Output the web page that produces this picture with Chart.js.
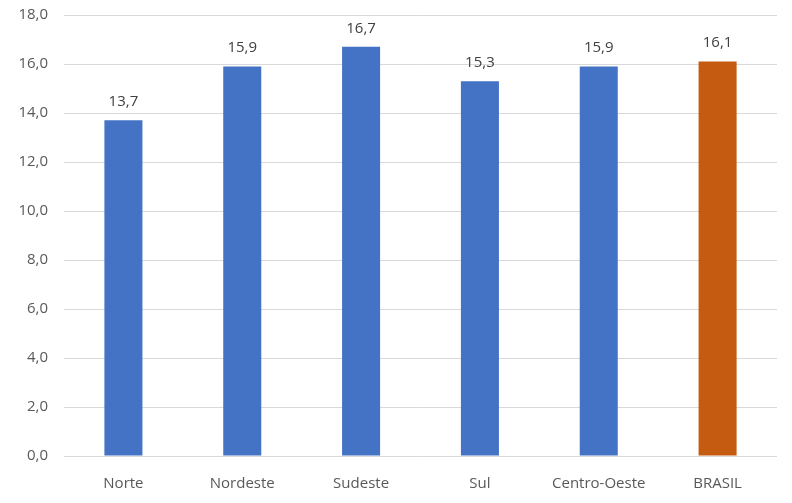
<!DOCTYPE html>
<html>
<head>
<meta charset="utf-8">
<script src="https://cdn.jsdelivr.net/npm/chart.js@4/dist/chart.umd.min.js"></script>
<style>
  html, body { margin: 0; padding: 0; background: #fff; }
  #wrap { width: 792px; height: 503px; }
</style>
</head>
<body>
<div id="wrap"><canvas id="grafico"></canvas></div>
<script>
const regioes = ['Norte', 'Nordeste', 'Sudeste', 'Sul', 'Centro-Oeste', 'BRASIL'];
const valores = [13.7, 15.9, 16.7, 15.3, 15.9, 16.1];
const cores = ['#4472C4', '#4472C4', '#4472C4', '#4472C4', '#4472C4', '#C55A11'];

const formatar = (v) => v.toFixed(1).replace('.', ',');

// rotulos em cima das barras
const rotulos = {
  id: 'rotulos',
  afterDatasetsDraw(chart) {
    const ctx = chart.ctx;
    const meta = chart.getDatasetMeta(0);
    ctx.save();
    ctx.font = '15px "Open Sans", sans-serif';
    ctx.fillStyle = '#404040';
    ctx.textAlign = 'center';
    ctx.textBaseline = 'bottom';
    meta.data.forEach((barra, i) => {
      ctx.fillText(formatar(valores[i]), barra.x, barra.y - 11);
    });
    ctx.restore();
  }
};

new Chart(document.getElementById('grafico'), {
  type: 'bar',
  data: {
    labels: regioes,
    datasets: [{
      data: valores,
      backgroundColor: cores,
      categoryPercentage: 1,
      barPercentage: 0.32
    }]
  },
  options: {
    responsive: true,
    maintainAspectRatio: false,
    animation: false,
    layout: { padding: { top: 15, right: 15, left: 0, bottom: 0 } },
    plugins: {
      legend: { display: false },
      tooltip: { enabled: false }
    },
    scales: {
      x: {
        grid: { display: false },
        border: { display: false },
        ticks: {
          color: '#595959',
          font: { family: '"Open Sans", sans-serif', size: 15 },
          padding: 11
        },
        afterFit: (s) => { s.height = 47; }
      },
      y: {
        min: 0,
        max: 18,
        ticks: {
          stepSize: 2,
          color: '#595959',
          font: { family: '"Open Sans", sans-serif', size: 15 },
          padding: 16,
          callback: (v) => formatar(v)
        },
        grid: { color: '#D9D9D9', drawTicks: false },
        border: { display: false },
        afterFit: (s) => { s.width = 64; s.paddingTop = 0; s.paddingBottom = 0; }
      }
    }
  },
  plugins: [rotulos]
});
</script>
</body>
</html>
